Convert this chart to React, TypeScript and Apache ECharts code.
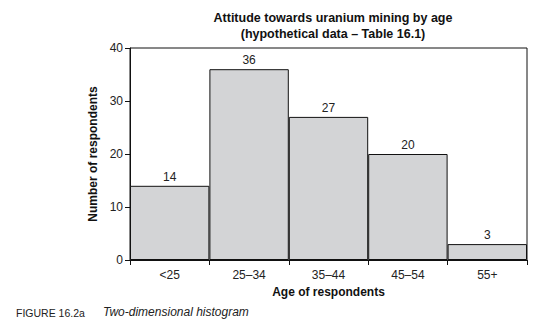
import React, { useEffect, useRef } from "react";
import * as echarts from "echarts";

const categories = ["<25", "25–34", "35–44", "45–54", "55+"];
const counts = [14, 36, 27, 20, 3];
const yTicks = { min: 0, max: 40, interval: 10 };

export default function App() {
  const ref = useRef<HTMLDivElement>(null);
  useEffect(() => {
    const chart = echarts.init(ref.current!, null, { renderer: "svg" });
    const font = "'Liberation Sans', Arial, sans-serif";
    chart.setOption({
      animation: false,
      backgroundColor: "#ffffff",
      textStyle: { fontFamily: font },
      title: {
        text: "Attitude towards uranium mining by age\n(hypothetical data – Table 16.1)",
        left: 328,
        textAlign: "center",
        top: 5,
        textStyle: { fontSize: 12.5, fontWeight: "bold", color: "#111", lineHeight: 16, fontFamily: font },
      },
      grid: {
        left: 130,
        right: 32,
        top: 48,
        bottom: 69,
        show: true,
        borderColor: "#111",
        borderWidth: 1,
        backgroundColor: "transparent",
      },
      xAxis: {
        type: "category",
        data: categories,
        name: "Age of respondents",
        nameLocation: "middle",
        nameGap: 26,
        nameTextStyle: { fontSize: 12, fontWeight: "bold", color: "#111", fontFamily: font },
        axisLine: { lineStyle: { color: "#111", width: 1 } },
        axisTick: { show: true, length: 5, lineStyle: { color: "#111" } },
        axisLabel: { fontSize: 12, color: "#222", margin: 9, fontFamily: font },
      },
      yAxis: {
        type: "value",
        min: yTicks.min,
        max: yTicks.max,
        interval: yTicks.interval,
        name: "Number of respondents",
        nameLocation: "middle",
        nameGap: 30,
        nameTextStyle: { fontSize: 12, fontWeight: "bold", color: "#111", fontFamily: font },
        axisLine: { show: true, lineStyle: { color: "#111", width: 1 } },
        axisTick: { show: true, length: 5, lineStyle: { color: "#111" } },
        axisLabel: { fontSize: 12, color: "#222", margin: 7, fontFamily: font },
        splitLine: { show: false },
      },
      series: [
        {
          type: "bar",
          data: counts,
          barCategoryGap: "0%",
          itemStyle: { color: "#d3d4d6", borderColor: "#111", borderWidth: 1 },
          label: {
            show: true,
            position: "top",
            distance: 3,
            fontSize: 12,
            color: "#222",
            fontFamily: font,
          },
        },
      ],
      graphic: [
        {
          type: "text",
          left: 16,
          top: 307,
          style: { text: "FIGURE 16.2a", fontSize: 10.5, fill: "#222", fontFamily: font },
        },
        {
          type: "text",
          left: 103,
          top: 306,
          style: { text: "Two-dimensional histogram", fontSize: 12, fontStyle: "italic", fill: "#222", fontFamily: font },
        },
      ],
    });
    return () => chart.dispose();
  }, []);
  return <div ref={ref} style={{ width: 559, height: 329, margin: -8 }} />;
}
